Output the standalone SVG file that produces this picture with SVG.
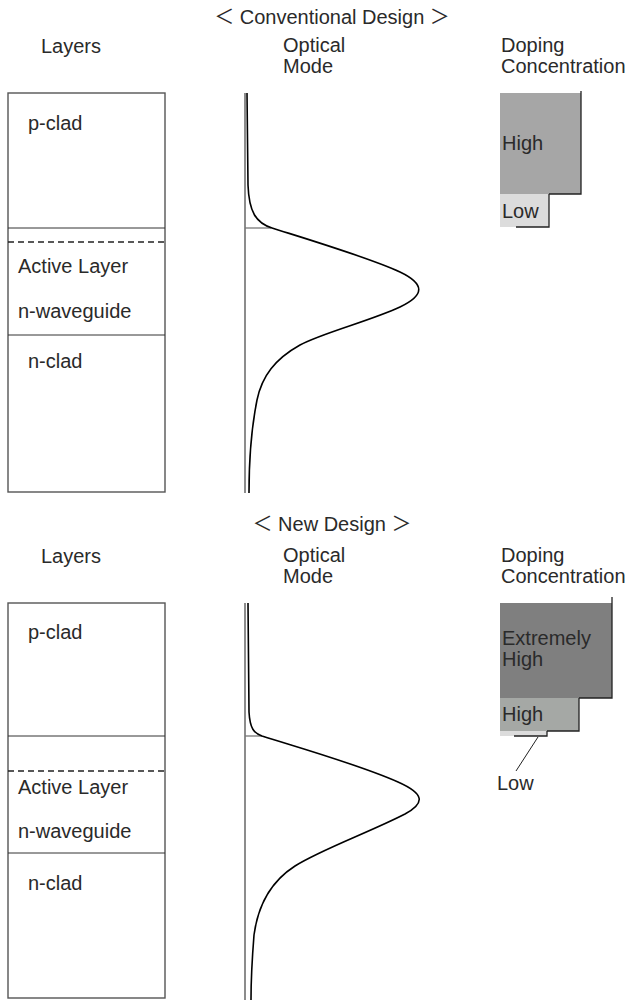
<svg xmlns="http://www.w3.org/2000/svg" width="643" height="1001" viewBox="0 0 643 1001">
<style>
text{font-family:"Liberation Sans","Noto Sans CJK JP",sans-serif;font-size:20px;fill:#2a2a2a}
.ttl{font-family:"Liberation Sans","Noto Sans CJK JP",sans-serif}
.box{fill:#fff;stroke:#555;stroke-width:1.4}
.sep{stroke:#333;stroke-width:1;fill:none}
.dash{stroke:#222;stroke-width:1.5;stroke-dasharray:6 4;fill:none}
.axis{stroke:#666;stroke-width:1.5;fill:none}
.tick{stroke:#777;stroke-width:1.3;fill:none}
.mode{stroke:#000;stroke-width:1.6;fill:none}
.edge{stroke:#222;stroke-width:1.3;fill:none}
</style>
<rect width="643" height="1001" fill="#fff"/>

<!-- Conventional design -->
<g id="title-conv"><text class="ttl" x="332" y="24" text-anchor="middle">＜ Conventional Design ＞</text></g>
<g id="hdr-conv">
<text x="41" y="53">Layers</text>
<text x="283" y="52">Optical</text>
<text x="283" y="73">Mode</text>
<text x="501" y="52">Doping</text>
<text x="501" y="73">Concentration</text>
</g>
<g id="layers-conv">
<rect class="box" x="8" y="93" width="157" height="399"/>
<line class="sep" x1="8" y1="228" x2="165" y2="228"/>
<line class="dash" x1="8" y1="242" x2="165" y2="242"/>
<line class="sep" x1="8" y1="335" x2="165" y2="335"/>
<text x="28" y="130">p-clad</text>
<text x="18" y="273">Active Layer</text>
<text x="18" y="318">n-waveguide</text>
<text x="28" y="368">n-clad</text>
</g>
<g id="mode-conv">
<line class="axis" x1="245" y1="93" x2="245" y2="493"/>
<line class="tick" x1="245" y1="228" x2="271" y2="228"/>
<path class="mode" d="M247,93 L248,185 C249,212 256,223 272,228 C310,240 370,258 400,272 C425,284 425,295 400,307 C370,321 322,333 300,345 C275,359 262,376 257,400 C252,425 249,450 249,493"/>
</g>
<g id="doping-conv">
<rect x="500" y="93" width="81" height="101" fill="#a6a6a6"/>
<rect x="500" y="194" width="49" height="33" fill="#dcdcdc"/>
<path class="edge" d="M581,91 V194 H549 M549,194 V227 H516"/>
<text x="502" y="150">High</text>
<text x="502" y="218">Low</text>
</g>

<!-- New design -->
<g id="title-new"><text class="ttl" x="332" y="531" text-anchor="middle">＜ New Design ＞</text></g>
<g id="hdr-new">
<text x="41" y="563">Layers</text>
<text x="283" y="562">Optical</text>
<text x="283" y="583">Mode</text>
<text x="501" y="562">Doping</text>
<text x="501" y="583">Concentration</text>
</g>
<g id="layers-new">
<rect class="box" x="8" y="603" width="157" height="395"/>
<line class="sep" x1="8" y1="736" x2="165" y2="736"/>
<line class="dash" x1="8" y1="771" x2="165" y2="771"/>
<line class="sep" x1="8" y1="853" x2="165" y2="853"/>
<text x="28" y="639">p-clad</text>
<text x="18" y="794">Active Layer</text>
<text x="18" y="838">n-waveguide</text>
<text x="28" y="890">n-clad</text>
</g>
<g id="mode-new">
<line class="axis" x1="245" y1="603" x2="245" y2="1000"/>
<line class="tick" x1="245" y1="736" x2="262" y2="736"/>
<path class="mode" d="M248,603 L249,712 C250,729 254,733 262,736 C300,748 360,765 398,782 C425,794 425,803 405,814 C370,832 320,850 295,866 C270,882 258,905 254,935 C252,960 251,980 251,1000"/>
</g>
<g id="doping-new">
<rect x="500" y="603" width="112" height="95" fill="#7f7f7f"/>
<rect x="500" y="698" width="79" height="33" fill="#a5a8a5"/>
<rect x="500" y="731" width="47" height="5" fill="#dcdcdc"/>
<path class="edge" d="M612,597 V698 H579 M579,698 V731 H547 M547,731 V736 H514"/>
<text x="502" y="645">Extremely</text>
<text x="502" y="666">High</text>
<text x="502" y="721">High</text>
</g>
<g id="connectors">
<line x1="538" y1="737" x2="516" y2="771" stroke="#222" stroke-width="1"/>
</g>
<text x="497" y="790">Low</text>
</svg>
